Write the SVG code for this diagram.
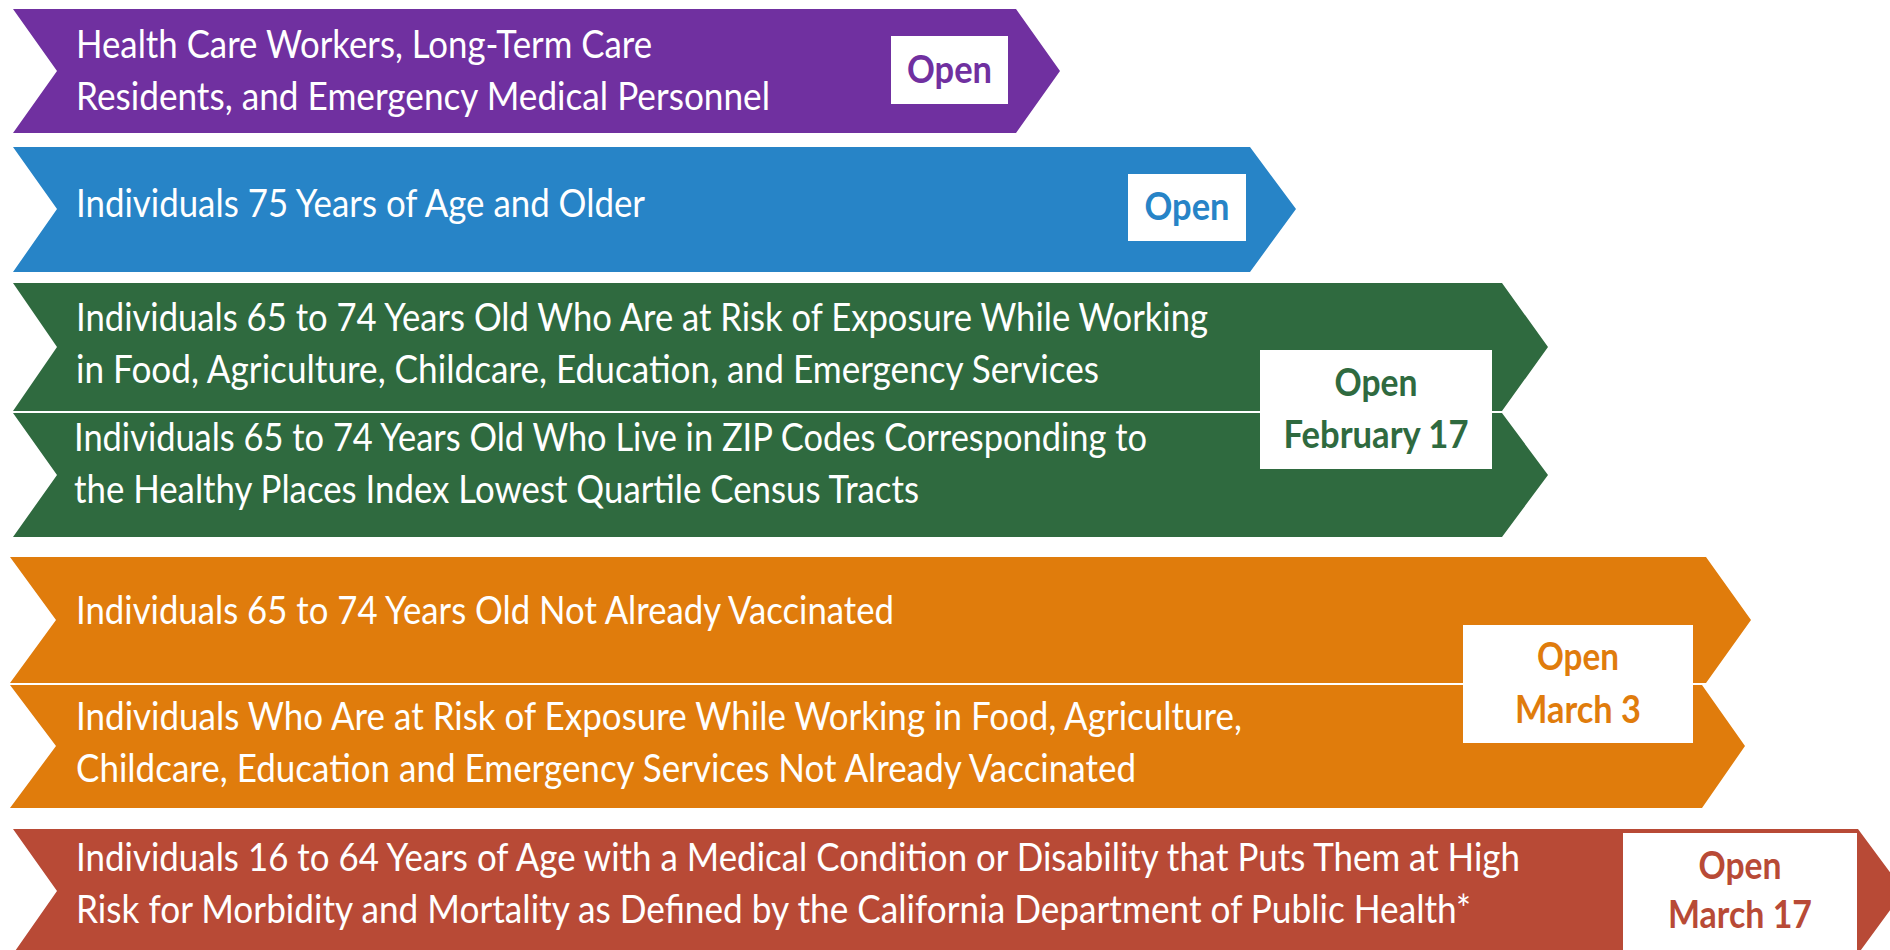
<svg xmlns="http://www.w3.org/2000/svg" width="1890" height="950" viewBox="0 0 1890 950">
<style>
.t{font-family:Lato,"Open Sans","Liberation Sans",sans-serif;font-size:38px;fill:#ffffff}
.b{font-family:Lato,"Open Sans","Liberation Sans",sans-serif;font-size:38px;font-weight:bold;text-anchor:middle}
.box{fill:#ffffff}
.purple{fill:#7030A0}.blue{fill:#2784C7}.green{fill:#2F6A3F}.orange{fill:#E07C0C}.red{fill:#B84A36}
</style>
<rect width="1890" height="950" fill="#ffffff"/>
<g id="phase-health-care">
<polygon class="purple" points="13,9 1016,9 1060,71 1016,133 13,133 57,71"/>
<text class="t" x="76" y="58" textLength="576" lengthAdjust="spacingAndGlyphs">Health Care Workers, Long-Term Care</text>
<text class="t" x="76" y="110" textLength="694" lengthAdjust="spacingAndGlyphs">Residents, and Emergency Medical Personnel</text>
<rect class="box" x="891" y="36" width="117" height="68"/>
<text class="b purple" x="949.5" y="83" textLength="85" lengthAdjust="spacingAndGlyphs">Open</text>
</g>
<g id="phase-75-older">
<polygon class="blue" points="13,147 1250,147 1296,209 1250,272 13,272 57,209"/>
<text class="t" x="76" y="217" textLength="569" lengthAdjust="spacingAndGlyphs">Individuals 75 Years of Age and Older</text>
<rect class="box" x="1128" y="174" width="118" height="67"/>
<text class="b blue" x="1187" y="220" textLength="85" lengthAdjust="spacingAndGlyphs">Open</text>
</g>
<g id="phase-feb17">
<polygon class="green" points="13,283 1502,283 1548,347 1502,411 13,411 57,347"/>
<polygon class="green" points="13,413 1502,413 1548,475 1502,537 13,537 57,475"/>
<text class="t" x="76" y="331" textLength="1132" lengthAdjust="spacingAndGlyphs">Individuals 65 to 74 Years Old Who Are at Risk of Exposure While Working</text>
<text class="t" x="76" y="383" textLength="1023" lengthAdjust="spacingAndGlyphs">in Food, Agriculture, Childcare, Education, and Emergency Services</text>
<text class="t" x="74" y="451" textLength="1073" lengthAdjust="spacingAndGlyphs">Individuals 65 to 74 Years Old Who Live in ZIP Codes Corresponding to</text>
<text class="t" x="74" y="503" textLength="845" lengthAdjust="spacingAndGlyphs">the Healthy Places Index Lowest Quartile Census Tracts</text>
<rect class="box" x="1260" y="350" width="232" height="119"/>
<text class="b green" x="1376" y="396" textLength="83" lengthAdjust="spacingAndGlyphs">Open</text>
<text class="b green" x="1376" y="448" textLength="185" lengthAdjust="spacingAndGlyphs">February 17</text>
</g>
<g id="phase-mar3">
<polygon class="orange" points="10,557 1706,557 1751,620 1706,683 10,683 56,620"/>
<polygon class="orange" points="10,685 1702,685 1745,746 1702,808 10,808 56,746"/>
<text class="t" x="76" y="624" textLength="818" lengthAdjust="spacingAndGlyphs">Individuals 65 to 74 Years Old Not Already Vaccinated</text>
<text class="t" x="76" y="730" textLength="1166" lengthAdjust="spacingAndGlyphs">Individuals Who Are at Risk of Exposure While Working in Food, Agriculture,</text>
<text class="t" x="76" y="782" textLength="1060" lengthAdjust="spacingAndGlyphs">Childcare, Education and Emergency Services Not Already Vaccinated</text>
<rect class="box" x="1463" y="625" width="230" height="118"/>
<text class="b orange" x="1578" y="670" textLength="82" lengthAdjust="spacingAndGlyphs">Open</text>
<text class="b orange" x="1578" y="723" textLength="126" lengthAdjust="spacingAndGlyphs">March 3</text>
</g>
<g id="phase-mar17">
<polygon class="red" points="13,829 1858,829 1904,891 1858,954 13,954 57,891"/>
<text class="t" x="76" y="871" textLength="1444" lengthAdjust="spacingAndGlyphs">Individuals 16 to 64 Years of Age with a Medical Condition or Disability that Puts Them at High</text>
<text class="t" x="76" y="923" textLength="1395" lengthAdjust="spacingAndGlyphs">Risk for Morbidity and Mortality as Defined by the California Department of Public Health*</text>
<rect class="box" x="1623" y="833" width="234" height="125"/>
<text class="b red" x="1740" y="879" textLength="83" lengthAdjust="spacingAndGlyphs">Open</text>
<text class="b red" x="1740" y="928" textLength="144" lengthAdjust="spacingAndGlyphs">March 17</text>
</g>
</svg>
